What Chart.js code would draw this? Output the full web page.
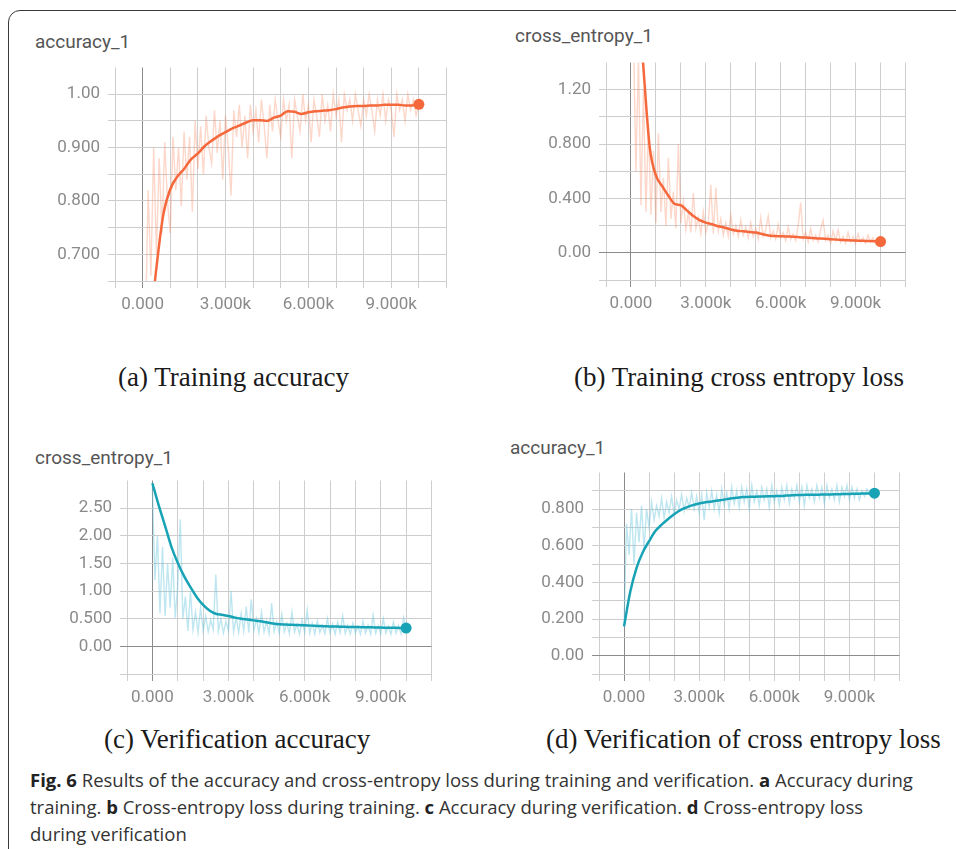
<!DOCTYPE html>
<html>
<head>
<meta charset="utf-8">
<script src="https://cdn.jsdelivr.net/npm/chart.js@4.4.1/dist/chart.umd.min.js"></script>
<style>
  body { margin: 0; width: 956px; height: 849px; overflow: hidden; background: #fff; position: relative; }
  .frame { position: absolute; left: 8px; top: 10px; width: 1000px; height: 900px; border: 1.5px solid #3a3a3a; border-radius: 12px; }
  canvas { position: absolute; }
  .title { position: absolute; font-family: Roboto, sans-serif; font-size: 19px; line-height: 20px; color: #555; }
  .cap { position: absolute; font-family: "Liberation Serif", serif; font-size: 27px; line-height: 30px; color: #1a1a1a; white-space: nowrap; }
  .fig { position: absolute; left: 30px; top: 766px; font-family: "Open Sans", sans-serif; font-size: 18.5px; line-height: 27px; color: #333; white-space: nowrap; }
  .fig b { color: #222; }
</style>
</head>
<body>
<div class="frame"></div>

<div class="title" style="left:35px;top:32px">accuracy_1</div>
<div class="title" style="left:515px;top:26px">cross_entropy_1</div>
<div class="title" style="left:35px;top:448px">cross_entropy_1</div>
<div class="title" style="left:510px;top:438px">accuracy_1</div>

<canvas id="chartA" width="397" height="254" style="left:55px;top:62px"></canvas>
<canvas id="chartB" width="365" height="258" style="left:546px;top:57px"></canvas>
<canvas id="chartC" width="370" height="234" style="left:67px;top:475px"></canvas>
<canvas id="chartD" width="366" height="242" style="left:539px;top:467px"></canvas>

<div class="cap" style="left:118px;top:362px">(a) Training accuracy</div>
<div class="cap" style="left:574px;top:362px">(b) Training cross entropy loss</div>
<div class="cap" style="left:104px;top:724px">(c) Verification accuracy</div>
<div class="cap" style="left:546px;top:724px">(d) Verification of cross entropy loss</div>

<div class="fig">
<b>Fig. 6</b> Results of the accuracy and cross-entropy loss during training and verification. <b>a</b> Accuracy during<br>
training. <b>b</b> Cross-entropy loss during training. <b>c</b> Accuracy during verification. <b>d</b> Cross-entropy loss<br>
during verification
</div>

<script>
// steps
const rawSteps = [
  0, 100, 200, 300, 400, 500, 600, 700, 800, 900,
  1000, 1100, 1200, 1300, 1400, 1500, 1600, 1700, 1800, 1900,
  2000, 2100, 2200, 2300, 2400, 2500, 2600, 2700, 2800, 2900,
  3000, 3100, 3200, 3300, 3400, 3500, 3600, 3700, 3800, 3900,
  4000, 4100, 4200, 4300, 4400, 4500, 4600, 4700, 4800, 4900,
  5000, 5100, 5200, 5300, 5400, 5500, 5600, 5700, 5800, 5900,
  6000, 6100, 6200, 6300, 6400, 6500, 6600, 6700, 6800, 6900,
  7000, 7100, 7200, 7300, 7400, 7500, 7600, 7700, 7800, 7900,
  8000, 8100, 8200, 8300, 8400, 8500, 8600, 8700, 8800, 8900,
  9000, 9100, 9200, 9300, 9400, 9500, 9600, 9700, 9800, 9900,
  10000
];
const smoothSteps = [
  0, 250, 500, 750, 1000, 1250, 1500, 1750, 2000, 2250,
  2500, 2750, 3000, 3250, 3500, 3750, 4000, 4250, 4500, 4750,
  5000, 5250, 5500, 5750, 6000, 6250, 6500, 6750, 7000, 7250,
  7500, 7750, 8000, 8250, 8500, 8750, 9000, 9250, 9500, 9750,
  10000
];
const xTickLabels = { 0: "0.000", 3000: "3.000k", 6000: "6.000k", 9000: "9.000k" };

// (a) training accuracy
const trainAccRaw = [
  0.30, 0.55, 0.82, 0.66, 0.90, 0.70, 0.88, 0.74, 0.91, 0.80,
  0.74, 0.92, 0.82, 0.90, 0.79, 0.93, 0.84, 0.92, 0.78, 0.95,
  0.86, 0.94, 0.85, 0.96, 0.90, 0.87, 0.97, 0.89, 0.95, 0.84,
  0.96, 0.90, 0.81, 0.97, 0.92, 0.98, 0.90, 0.96, 0.88, 0.98,
  0.93, 0.97, 0.91, 0.99, 0.94, 0.88, 0.98, 0.93, 0.99, 0.95,
  0.92, 0.99, 0.95, 0.98, 0.88, 0.99, 0.96, 0.93, 1.00, 0.95,
  0.98, 0.91, 0.99, 0.96, 0.92, 1.00, 0.95, 0.98, 0.93, 1.00,
  0.96, 0.99, 0.91, 1.00, 0.97, 0.99, 0.95, 1.00, 0.97, 0.94,
  0.99, 0.96, 1.00, 0.97, 0.93, 0.99, 0.96, 1.00, 0.95, 0.99,
  0.97, 0.92, 1.00, 0.97, 0.99, 0.95, 1.00, 0.97, 0.99, 0.96,
  0.98
];
const trainAccSmooth = [
  0.40, 0.55, 0.675, 0.775, 0.822, 0.845, 0.860, 0.878, 0.889, 0.903,
  0.913, 0.922, 0.929, 0.936, 0.941, 0.947, 0.951, 0.951, 0.950, 0.956,
  0.960, 0.968, 0.967, 0.963, 0.966, 0.968, 0.969, 0.970, 0.972, 0.975,
  0.977, 0.978, 0.978, 0.979, 0.979, 0.980, 0.980, 0.980, 0.979, 0.979,
  0.981
];

// (b) training cross entropy
const trainLossRaw = [
  2.5, 1.6, 0.6, 1.45, 0.35, 1.2, 0.3, 0.95, 0.28, 0.75,
  0.22, 0.88, 0.30, 0.55, 0.20, 0.70, 0.25, 0.45, 0.18, 0.80,
  0.22, 0.38, 0.17, 0.30, 0.15, 0.44, 0.18, 0.26, 0.14, 0.30,
  0.15, 0.22, 0.50, 0.14, 0.48, 0.16, 0.25, 0.13, 0.22, 0.12,
  0.28, 0.14, 0.20, 0.12, 0.24, 0.13, 0.19, 0.11, 0.22, 0.12,
  0.18, 0.10, 0.26, 0.12, 0.17, 0.27, 0.11, 0.16, 0.10, 0.21,
  0.11, 0.15, 0.09, 0.19, 0.10, 0.14, 0.09, 0.20, 0.37, 0.10,
  0.15, 0.08, 0.18, 0.09, 0.13, 0.08, 0.17, 0.24, 0.09, 0.13,
  0.07, 0.16, 0.09, 0.17, 0.08, 0.12, 0.07, 0.15, 0.08, 0.12,
  0.07, 0.14, 0.08, 0.11, 0.07, 0.13, 0.08, 0.11, 0.07, 0.10,
  0.08
];
const trainLossSmooth = [
  2.6, 2.0, 1.36, 0.78, 0.57, 0.49, 0.42, 0.36, 0.35, 0.31,
  0.27, 0.24, 0.222, 0.21, 0.195, 0.185, 0.172, 0.163, 0.158, 0.153,
  0.149, 0.138, 0.128, 0.124, 0.122, 0.12, 0.118, 0.115, 0.112, 0.109,
  0.106, 0.103, 0.1, 0.097, 0.094, 0.092, 0.09, 0.089, 0.087, 0.085,
  0.083
];

// (c) verification cross entropy
const valLossRaw = [
  2.9, 1.2, 2.0, 0.6, 1.8, 0.55, 1.5, 0.7, 1.6, 0.52,
  1.1, 2.3, 0.5, 0.9, 0.28, 1.0, 0.30, 0.62, 0.25, 0.70,
  0.28, 0.55, 0.26, 0.48, 0.30, 1.3, 0.27, 0.50, 0.24, 0.45,
  0.28, 1.0, 0.26, 0.52, 0.25, 0.60, 0.27, 0.72, 0.25, 0.85,
  0.28, 0.50, 0.24, 0.62, 0.26, 0.45, 0.23, 0.78, 0.27, 0.44,
  0.24, 0.58, 0.26, 0.42, 0.23, 0.62, 0.26, 0.40, 0.22, 0.48,
  0.25, 0.66, 0.24, 0.42, 0.22, 0.46, 0.25, 0.38, 0.23, 0.50,
  0.24, 0.40, 0.22, 0.44, 0.25, 0.55, 0.23, 0.38, 0.22, 0.42,
  0.24, 0.36, 0.22, 0.45, 0.24, 0.38, 0.22, 0.56, 0.24, 0.37,
  0.22, 0.50, 0.24, 0.36, 0.22, 0.44, 0.24, 0.38, 0.23, 0.52,
  0.30
];
const valLossSmooth = [
  2.95, 2.55, 2.18, 1.80, 1.51, 1.27, 1.07, 0.89, 0.75, 0.65,
  0.59, 0.57, 0.55, 0.52, 0.50, 0.485, 0.47, 0.455, 0.435, 0.415,
  0.40, 0.395, 0.39, 0.385, 0.38, 0.375, 0.37, 0.365, 0.36, 0.358,
  0.355, 0.352, 0.35, 0.347, 0.345, 0.342, 0.34, 0.337, 0.335, 0.333,
  0.33
];

// (d) verification accuracy
const valAccRaw = [
  0.16, 0.72, 0.55, 0.80, 0.50, 0.78, 0.62, 0.82, 0.58, 0.80,
  0.70, 0.84, 0.74, 0.82, 0.76, 0.86, 0.75, 0.84, 0.78, 0.87,
  0.77, 0.85, 0.80, 0.88, 0.79, 0.86, 0.81, 0.89, 0.80, 0.87,
  0.78, 0.88, 0.74, 0.89, 0.81, 0.90, 0.80, 0.88, 0.78, 0.91,
  0.82, 0.89, 0.80, 0.92, 0.83, 0.90, 0.81, 0.92, 0.84, 0.91,
  0.80, 0.93, 0.84, 0.90, 0.82, 0.92, 0.85, 0.91, 0.81, 0.93,
  0.84, 0.90, 0.82, 0.92, 0.85, 0.93, 0.83, 0.91, 0.86, 0.93,
  0.84, 0.92, 0.82, 0.93, 0.86, 0.91, 0.84, 0.93, 0.86, 0.92,
  0.83, 0.93, 0.86, 0.91, 0.85, 0.93, 0.84, 0.92, 0.87, 0.93,
  0.85, 0.92, 0.86, 0.91, 0.85, 0.90, 0.87, 0.91, 0.88, 0.90,
  0.89
];
const valAccSmooth = [
  0.16, 0.35, 0.48, 0.565, 0.625, 0.68, 0.715, 0.745, 0.772, 0.795,
  0.81, 0.822, 0.831, 0.837, 0.842, 0.847, 0.852, 0.858, 0.862, 0.866,
  0.867, 0.868, 0.869, 0.870, 0.871, 0.872, 0.874, 0.876, 0.877, 0.878,
  0.879, 0.879, 0.880, 0.880, 0.881, 0.882, 0.883, 0.884, 0.885, 0.886,
  0.887
];

const ORANGE = "#f4683c";
const ORANGE_RAW = "rgba(246, 130, 90, 0.32)";
const TEAL = "#17a3b5";
const TEAL_RAW = "rgba(100, 195, 220, 0.42)";
const GRID = "#cdcdcd";
const AXIS = "#8c8c8c";

function pts(xs, ys) {
  return ys.map((y, i) => ({ x: xs[i], y: y }));
}

function isMultiple(v, step) {
  const r = v / step;
  return Math.abs(r - Math.round(r)) < 1e-6;
}

function fmtY(v) {
  if (Math.abs(v) < 1e-9) return "0.00";
  return Number(v).toPrecision(3);
}

function gridColor(max) {
  return function (ctx) {
    const v = ctx.tick ? ctx.tick.value : null;
    if (v === null) return GRID;
    if (Math.abs(v) < 1e-9) return AXIS;
    if (max !== undefined && Math.abs(v - max) < 1e-9) return "rgba(0,0,0,0)";
    return GRID;
  };
}

function makeChart(id, cfg) {
  const last = cfg.smooth.length - 1;
  const tickFont = { family: "Roboto", size: 17 };
  return new Chart(document.getElementById(id), {
    type: "line",
    data: {
      datasets: [
        {
          data: pts(smoothSteps, cfg.smooth),
          borderColor: cfg.color,
          backgroundColor: cfg.color,
          borderWidth: 2.5,
          pointRadius: (c) => (c.dataIndex === last ? 5.5 : 0),
          pointBorderWidth: 0,
          cubicInterpolationMode: "monotone",
          order: 0,
        },
        {
          data: pts(rawSteps, cfg.raw),
          borderColor: cfg.rawColor,
          borderWidth: 1.4,
          pointRadius: 0,
          tension: 0,
          order: 1,
        },
      ],
    },
    options: {
      responsive: false,
      animation: false,
      layout: { padding: { top: 5, right: 5, left: 0, bottom: 0 } },
      plugins: { legend: { display: false }, tooltip: { enabled: false } },
      scales: {
        x: {
          type: "linear",
          min: -1000,
          max: 11000,
          afterFit: (s) => { s.height = 35; s.paddingLeft = 0; s.paddingRight = 0; },
          border: { display: false },
          grid: { color: gridColor(), tickLength: 7, lineWidth: 1 },
          ticks: {
            stepSize: 1000,
            autoSkip: false,
            maxRotation: 0,
            padding: 7,
            color: "#8a8a8a",
            font: tickFont,
            callback: (v) => (xTickLabels[v] !== undefined ? xTickLabels[v] : ""),
          },
        },
        y: {
          min: cfg.min,
          max: cfg.max,
          afterFit: (s) => { s.width = 60; s.paddingTop = 0; s.paddingBottom = 0; },
          border: { display: false },
          grid: { color: gridColor(cfg.max), tickLength: 7, lineWidth: 1 },
          ticks: {
            stepSize: cfg.step,
            autoSkip: false,
            padding: 8,
            color: "#8a8a8a",
            font: tickFont,
            callback: (v) =>
              v >= -1e-9 && v < cfg.max - 1e-9 && isMultiple(v, cfg.labelStep) ? fmtY(v) : "",
          },
        },
      },
    },
  });
}

makeChart("chartA", { smooth: trainAccSmooth, raw: trainAccRaw, color: ORANGE, rawColor: ORANGE_RAW,
  min: 0.65, max: 1.05, step: 0.05, labelStep: 0.1 });
makeChart("chartB", { smooth: trainLossSmooth, raw: trainLossRaw, color: ORANGE, rawColor: ORANGE_RAW,
  min: -0.2, max: 1.4, step: 0.2, labelStep: 0.4 });
makeChart("chartC", { smooth: valLossSmooth, raw: valLossRaw, color: TEAL, rawColor: TEAL_RAW,
  min: -0.5, max: 3.0, step: 0.5, labelStep: 0.5 });
makeChart("chartD", { smooth: valAccSmooth, raw: valAccRaw, color: TEAL, rawColor: TEAL_RAW,
  min: -0.1, max: 1.0, step: 0.1, labelStep: 0.2 });
</script>
</body>
</html>
